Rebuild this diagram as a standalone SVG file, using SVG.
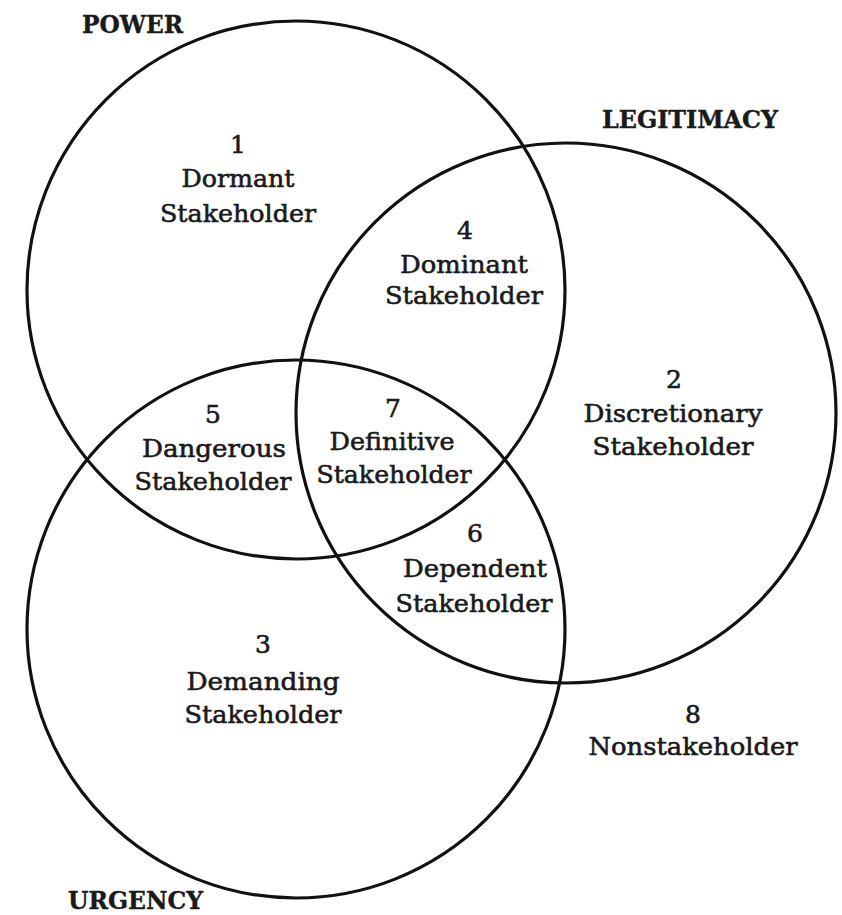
<svg xmlns="http://www.w3.org/2000/svg" width="842" height="915" viewBox="0 0 842 915">
<style>
.c{fill:none;stroke:#111;stroke-width:3.2}
text{font-family:"DejaVu Serif","Liberation Serif",serif;fill:#1a1a1a;stroke:#1a1a1a;stroke-width:0.6;text-anchor:middle;font-size:25px}
.t{font-weight:bold;font-size:24px;text-anchor:start;stroke-width:0.4}
</style>
<rect width="842" height="915" fill="#fff"/>
<g id="circles">
<circle id="power" class="c" cx="296" cy="290" r="269"/>
<circle id="legitimacy" class="c" cx="566" cy="413" r="270"/>
<circle id="urgency" class="c" cx="296" cy="629" r="269"/>
</g>
<g id="titles">
<text class="t" x="82" y="33" textLength="101" lengthAdjust="spacingAndGlyphs">POWER</text>
<text class="t" x="602" y="128" textLength="176" lengthAdjust="spacingAndGlyphs">LEGITIMACY</text>
<text class="t" x="68" y="909" textLength="135" lengthAdjust="spacingAndGlyphs">URGENCY</text>
</g>
<g id="r1">
<text x="238" y="153">1</text>
<text x="238" y="187" textLength="113" lengthAdjust="spacingAndGlyphs">Dormant</text>
<text x="238" y="222" textLength="156" lengthAdjust="spacingAndGlyphs">Stakeholder</text>
</g>
<g id="r4">
<text x="465" y="239">4</text>
<text x="464" y="273" textLength="128" lengthAdjust="spacingAndGlyphs">Dominant</text>
<text x="464" y="304" textLength="158" lengthAdjust="spacingAndGlyphs">Stakeholder</text>
</g>
<g id="r2">
<text x="674" y="388">2</text>
<text x="673" y="422" textLength="179" lengthAdjust="spacingAndGlyphs">Discretionary</text>
<text x="673" y="455" textLength="161" lengthAdjust="spacingAndGlyphs">Stakeholder</text>
</g>
<g id="r5">
<text x="213" y="423">5</text>
<text x="214" y="457" textLength="144" lengthAdjust="spacingAndGlyphs">Dangerous</text>
<text x="213" y="490" textLength="157" lengthAdjust="spacingAndGlyphs">Stakeholder</text>
</g>
<g id="r7">
<text x="393" y="417">7</text>
<text x="392" y="450" textLength="125" lengthAdjust="spacingAndGlyphs">Definitive</text>
<text x="394" y="483" textLength="155" lengthAdjust="spacingAndGlyphs">Stakeholder</text>
</g>
<g id="r6">
<text x="475" y="542">6</text>
<text x="475" y="577" textLength="144" lengthAdjust="spacingAndGlyphs">Dependent</text>
<text x="474" y="612" textLength="157" lengthAdjust="spacingAndGlyphs">Stakeholder</text>
</g>
<g id="r3">
<text x="263" y="653">3</text>
<text x="263" y="690" textLength="153" lengthAdjust="spacingAndGlyphs">Demanding</text>
<text x="263" y="723" textLength="157" lengthAdjust="spacingAndGlyphs">Stakeholder</text>
</g>
<g id="r8">
<text x="693" y="723">8</text>
<text x="693" y="755" textLength="209" lengthAdjust="spacingAndGlyphs">Nonstakeholder</text>
</g>
</svg>
